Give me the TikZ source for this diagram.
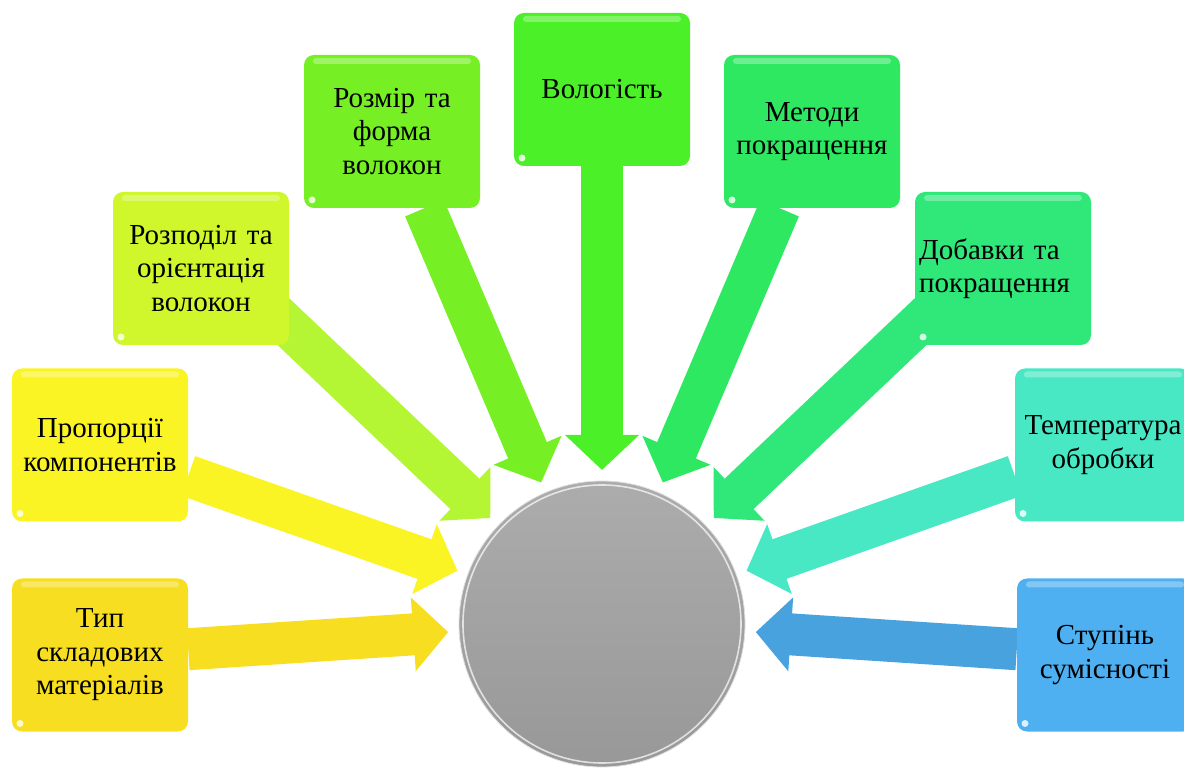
\documentclass[tikz,border=0pt]{standalone}
\usepackage{fontspec}
\setmainfont{Liberation Serif}
\usepackage{xcolor}
\usepackage{tikz}
\usetikzlibrary{arrows.meta,calc,backgrounds}
\definecolor{typeyellow}{RGB}{248,222,32}
\definecolor{propyellow}{RGB}{250,244,36}
\definecolor{distlime}{RGB}{208,246,44}
\definecolor{distarrow}{RGB}{180,246,52}
\definecolor{sizegreen}{RGB}{118,240,36}
\definecolor{moistgreen}{RGB}{76,240,40}
\definecolor{methgreen}{RGB}{46,232,98}
\definecolor{addgreen}{RGB}{48,232,122}
\definecolor{tempcyan}{RGB}{72,232,196}
\definecolor{compblue}{RGB}{78,176,240}
\definecolor{hubtop}{RGB}{172,172,172}
\definecolor{hubbottom}{RGB}{152,152,152}

\begin{document}
\begin{tikzpicture}[x=1pt, y=1pt,
  box/.style={rounded corners=10pt, text width=168pt, inner sep=4pt,
              minimum height=153pt, align=center,
              font=\fontsize{29}{33.5}\selectfont,
              path picture={
                \fill[white, opacity=.3, rounded corners=3pt]
                  ([xshift=9pt, yshift=-3pt]path picture bounding box.north west) rectangle
                  ([xshift=-9pt, yshift=-9pt]path picture bounding box.north east);
                \fill[white, opacity=.8]
                  ([xshift=8pt, yshift=8pt]path picture bounding box.south west) circle (3.5pt);
              }},
  hub/.style={circle, minimum size=286pt, inner sep=0pt,
              top color=hubtop, bottom color=hubbottom, draw=gray!25, line width=.8pt,
              path picture={
                \draw[white, line width=1.6pt, opacity=.7]
                  (path picture bounding box.center) circle (139pt);
              }},
  arr/.style={-{Triangle[length=35pt, width=72pt]}, line width=42pt}
]
\useasboundingbox (0,0) rectangle (1184,769);

% centre
\node[hub] (hub) at (602,145) {};

% left side
\node[box, fill=typeyellow] (type) at (100,114) {Тип\\складових\\матеріалів};
\node[box, fill=propyellow] (prop) at (100,324) {Пропорції\\компонентів};
\node[box, fill=distlime] (dist) at (201,500.5) {Розподіл та\\орієнтація\\волокон};
\node[box, fill=sizegreen] (size) at (392,637.5) {Розмір та\\форма\\волокон};

% top
\node[box, fill=moistgreen] (moist) at (602,679.5) {Вологість};

% right side
\node[box, fill=methgreen] (meth) at (812,637.5) {Методи\\покращення};
\node[box, fill=addgreen, align=left] (add) at (1003,500.5) {Добавки та\\покращення};
\node[box, fill=tempcyan] (temp) at (1103,324) {Температура\\обробки};
\node[box, fill=compblue] (comp) at (1105,114) {Ступінь\\сумісності};

% arrows behind the boxes
\begin{pgfonlayer}{background}
\draw[arr, typeyellow] (type) -- ($(hub)+(183:154pt)$);
\draw[arr, propyellow] (prop) -- ($(hub)+(159.75:154pt)$);
\draw[arr, distarrow] ([yshift=25pt]dist.center) -- ($(hub)+(136.5:154pt)$);
\draw[arr, sizegreen] (size) -- ($(hub)+(113.25:154pt)$);
\draw[arr, moistgreen] (moist) -- ($(hub)+(90:154pt)$);
\draw[arr, methgreen] (meth) -- ($(hub)+(66.75:154pt)$);
\draw[arr, addgreen] ([yshift=25pt]add.center) -- ($(hub)+(43.5:154pt)$);
\draw[arr, tempcyan] (temp) -- ($(hub)+(20.25:154pt)$);
\draw[arr, compblue!92!black] (comp) -- ($(hub)+(-3:154pt)$);
\end{pgfonlayer}

\end{tikzpicture}
\end{document}
